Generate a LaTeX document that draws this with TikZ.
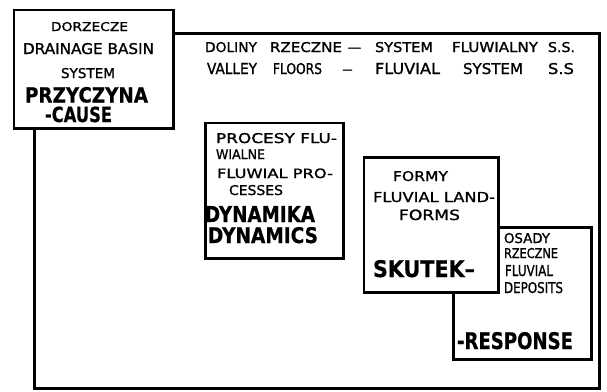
\documentclass[tikz,border=0pt]{standalone}
\usepackage{fontspec}
\setmainfont{DejaVu Sans}
\newfontfamily\lettr{DejaVu Sans}[FakeBold=1.2]
\newfontfamily\lettb{DejaVu Sans Bold}[FakeBold=0.6]
\usepackage{graphicx}
\newcommand{\fitt}[3]{\resizebox{#1pt}{#2pt}{#3}}
\newcommand{\dashw}[1]{\resizebox{#1pt}{\height}{\fontsize{13.7}{16}\selectfont –}}
\tikzset{
  boxline/.style={draw=black, line width=2.7pt, fill=white, inner sep=0pt, anchor=north west},
  lbl/.style={anchor=base west, inner sep=0pt, outer sep=0pt, font=\lettr},
  bld/.style={lbl, font=\lettb},
}
\begin{document}
\begin{tikzpicture}[x=1pt,y=-1pt]
\useasboundingbox (0,0) rectangle (607,391);
% frames
\node[boxline, line width=3pt, minimum width=564.5pt, minimum height=355.5pt] (frame) at (33,31.5) {};
\node[boxline, minimum width=159.5pt, minimum height=118.5pt] (cause) at (12.5,8.5) {};
\node[boxline, minimum width=138pt, minimum height=135.5pt] (proc) at (204,121.5) {};
\node[boxline, minimum width=138pt, minimum height=132pt] (resp) at (452,226) {};
\node[boxline, minimum width=134.5pt, minimum height=135pt] (forms) at (362.5,156) {};
% box 1
\node[lbl] (c1) at (51,31) {\fitt{77}{9}{DORZECZE}};
\node[lbl] (c2) at (23,54) {\fitt{131}{11}{DRAINAGE BASIN}};
\node[lbl] (c3) at (61,78) {\fitt{54}{10}{SYSTEM}};
\node[bld] (c4) at (25,102.5) {\fitt{123}{15.5}{PRZYCZYNA}};
\node[bld] (c5) at (45,122) {\fitt{67}{15.5}{-CAUSE}};
% header
\node[lbl] (h1) at (205,52) {\fitt{52}{10}{DOLINY}};
\node[lbl] (h2) at (270,52) {\fitt{72}{10}{RZECZNE}};
\node[lbl] (h3) at (347,52) {\dashw{15}};
\node[lbl] (h4) at (375,52) {\fitt{58}{10}{SYSTEM}};
\node[lbl] (h5) at (452,52) {\fitt{86}{10}{FLUWIALNY}};
\node[lbl] (h6) at (548,52) {\fitt{27}{10}{S.S.}};
\node[lbl] (g1) at (207,74) {\fitt{50}{11}{VALLEY}};
\node[lbl] (g2) at (273,74) {\fitt{49}{11}{FLOORS}};
\node[lbl] (g3) at (342,74) {\dashw{11}};
\node[lbl] (g4) at (375,74) {\fitt{65}{11}{FLUVIAL}};
\node[lbl] (g5) at (463,74) {\fitt{60}{11}{SYSTEM}};
\node[lbl] (g6) at (548,74) {\fitt{26}{11}{S.S}};
% box 2
\node[lbl] (p1) at (216,143) {\fitt{121}{10}{PROCESY FLU-}};
\node[lbl] (p2) at (216,159) {\fitt{49}{9.5}{WIALNE}};
\node[lbl] (p3) at (217,178) {\fitt{116}{9.5}{FLUWIAL PRO-}};
\node[lbl] (p4) at (229,195) {\fitt{54}{10}{CESSES}};
\node[bld] (p5) at (205,222) {\fitt{110}{16}{DYNAMIKA}};
\node[bld] (p6) at (208,243) {\fitt{110}{16}{DYNAMICS}};
% box 3
\node[lbl] (f1) at (393,181) {\fitt{55}{10}{FORMY}};
\node[lbl] (f2) at (373,202) {\fitt{122}{10}{FLUVIAL LAND-}};
\node[lbl] (f3) at (399,220) {\fitt{61}{10.5}{FORMS}};
\node[bld] (f4) at (373,277) {\fitt{102}{17}{SKUTEK–}};
% box 4
\node[lbl] (r1) at (504,243) {\fitt{46}{10}{OSADY}};
\node[lbl] (r2) at (504,258) {\fitt{54}{10}{RZECZNE}};
\node[lbl] (r3) at (505,276) {\fitt{48}{11}{FLUVIAL}};
\node[lbl] (r4) at (504,293) {\fitt{59}{11}{DEPOSITS}};
\node[bld] (r5) at (457,349) {\fitt{116}{17}{-RESPONSE}};
\end{tikzpicture}
\end{document}
